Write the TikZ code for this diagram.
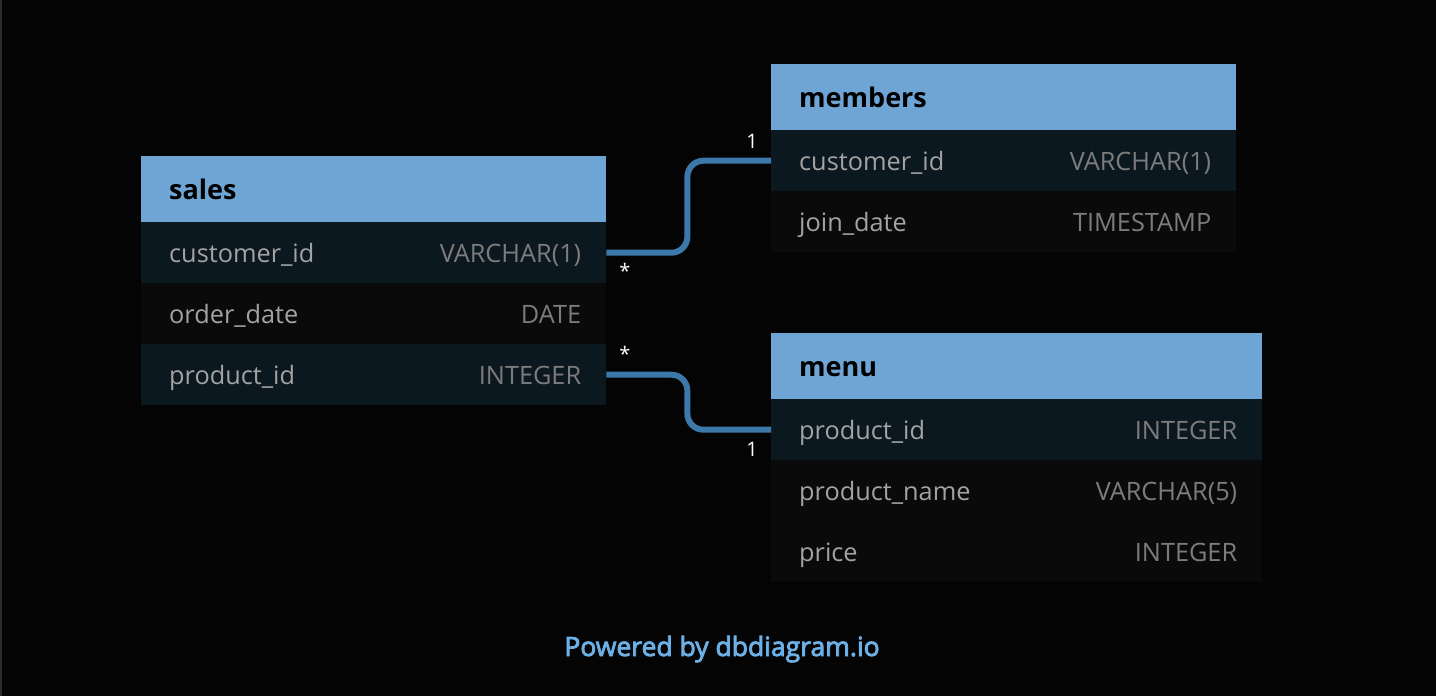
\documentclass[tikz,border=0pt]{standalone}
\usepackage{fontspec}
\setmainfont{Open Sans}
\newfontfamily\footfont[FakeBold=3]{Open Sans}
\usetikzlibrary{calc}
\definecolor{bgc}{HTML}{040404}
\definecolor{edgec}{HTML}{2A2A2A}
\definecolor{headc}{HTML}{6FA5D4}
\definecolor{rowa}{HTML}{0C1820}
\definecolor{rowb}{HTML}{0A0A0A}
\definecolor{namec}{HTML}{A3A3A3}
\definecolor{typec}{HTML}{7C7C7C}
\definecolor{connc}{HTML}{3C78AA}
\definecolor{footc}{HTML}{6CB0E6}
\tikzset{
  tblhead/.style={rectangle, fill=headc, draw=none, inner sep=0, anchor=north west, minimum height=66pt},
  rowdark/.style={rectangle, fill=rowa, draw=none, inner sep=0, anchor=north west, minimum height=61pt},
  rowlight/.style={rectangle, fill=rowb, draw=none, inner sep=0, anchor=north west, minimum height=61pt},
  htext/.style={inner sep=0, anchor=base west, font=\fontsize{27}{30}\selectfont\bfseries, text=black},
  fname/.style={inner sep=0, anchor=base west, font=\fontsize{25.3}{28}\selectfont, text=namec},
  ftype/.style={inner sep=0, anchor=base east, font=\fontsize{25.3}{28}\selectfont, text=typec},
  conn/.style={draw=connc, line width=6pt, rounded corners=16pt},
  card/.style={inner sep=0, font=\fontsize{20}{22}\selectfont, text=white},
}
\begin{document}
\begin{tikzpicture}[x=1pt,y=-1pt]
\fill[bgc] (0,0) rectangle (1436,696);
\useasboundingbox (0,0) rectangle (1436,696);
\fill[edgec] (0,0) rectangle (2,696);
% sales
\node[tblhead, minimum width=465pt] (sh) at (141,156) {};
\node[rowdark, minimum width=465pt] (s1) at (141,222) {};
\node[rowlight, minimum width=465pt] (s2) at (141,283) {};
\node[rowdark, minimum width=465pt] (s3) at (141,344) {};
\node[htext] (sht) at ($(sh.west)+(28,10)$) {sales};
\node[fname] (s1n) at ($(s1.west)+(28,9.5)$) {customer\_id};
\node[ftype] (s1t) at ($(s1.east)+(-25,9.5)$) {VARCHAR(1)};
\node[fname] (s2n) at ($(s2.west)+(28,9.5)$) {order\_date};
\node[ftype] (s2t) at ($(s2.east)+(-25,9.5)$) {DATE};
\node[fname] (s3n) at ($(s3.west)+(28,9.5)$) {product\_id};
\node[ftype] (s3t) at ($(s3.east)+(-25,9.5)$) {INTEGER};
% members
\node[tblhead, minimum width=465pt] (mh) at (771,64) {};
\node[rowdark, minimum width=465pt] (m1) at (771,130) {};
\node[rowlight, minimum width=465pt] (m2) at (771,191) {};
\node[htext] (mht) at ($(mh.west)+(28,10)$) {members};
\node[fname] (m1n) at ($(m1.west)+(28,9.5)$) {customer\_id};
\node[ftype] (m1t) at ($(m1.east)+(-25,9.5)$) {VARCHAR(1)};
\node[fname] (m2n) at ($(m2.west)+(28,9.5)$) {join\_date};
\node[ftype] (m2t) at ($(m2.east)+(-25,9.5)$) {TIMESTAMP};
% menu
\node[tblhead, minimum width=491pt] (uh) at (771,333) {};
\node[rowdark, minimum width=491pt] (u1) at (771,399) {};
\node[rowlight, minimum width=491pt] (u2) at (771,460) {};
\node[rowlight, minimum width=491pt] (u3) at (771,521) {};
\node[htext] (uht) at ($(uh.west)+(28,10)$) {menu};
\node[fname] (u1n) at ($(u1.west)+(28,9.5)$) {product\_id};
\node[ftype] (u1t) at ($(u1.east)+(-25,9.5)$) {INTEGER};
\node[fname] (u2n) at ($(u2.west)+(28,9.5)$) {product\_name};
\node[ftype] (u2t) at ($(u2.east)+(-25,9.5)$) {VARCHAR(5)};
\node[fname] (u3n) at ($(u3.west)+(28,9.5)$) {price};
\node[ftype] (u3t) at ($(u3.east)+(-25,9.5)$) {INTEGER};
% connectors
\draw[conn] (s1.east) -- ++(81,0) |- (m1.west);
\draw[conn] (s3.east) -- ++(81,0) |- (u1.west);
% cardinalities
\node[card] (c1) at (625,271) {*};
\node[card] (c2) at (752,141) {1};
\node[card] (c3) at (625,354) {*};
\node[card] (c4) at (752,449) {1};
% footer
\node[inner sep=0, anchor=base, font=\footfont\fontsize{26.5}{28}\selectfont, text=footc] (foot) at (722,656) {Powered by dbdiagram.io};
\end{tikzpicture}
\end{document}
